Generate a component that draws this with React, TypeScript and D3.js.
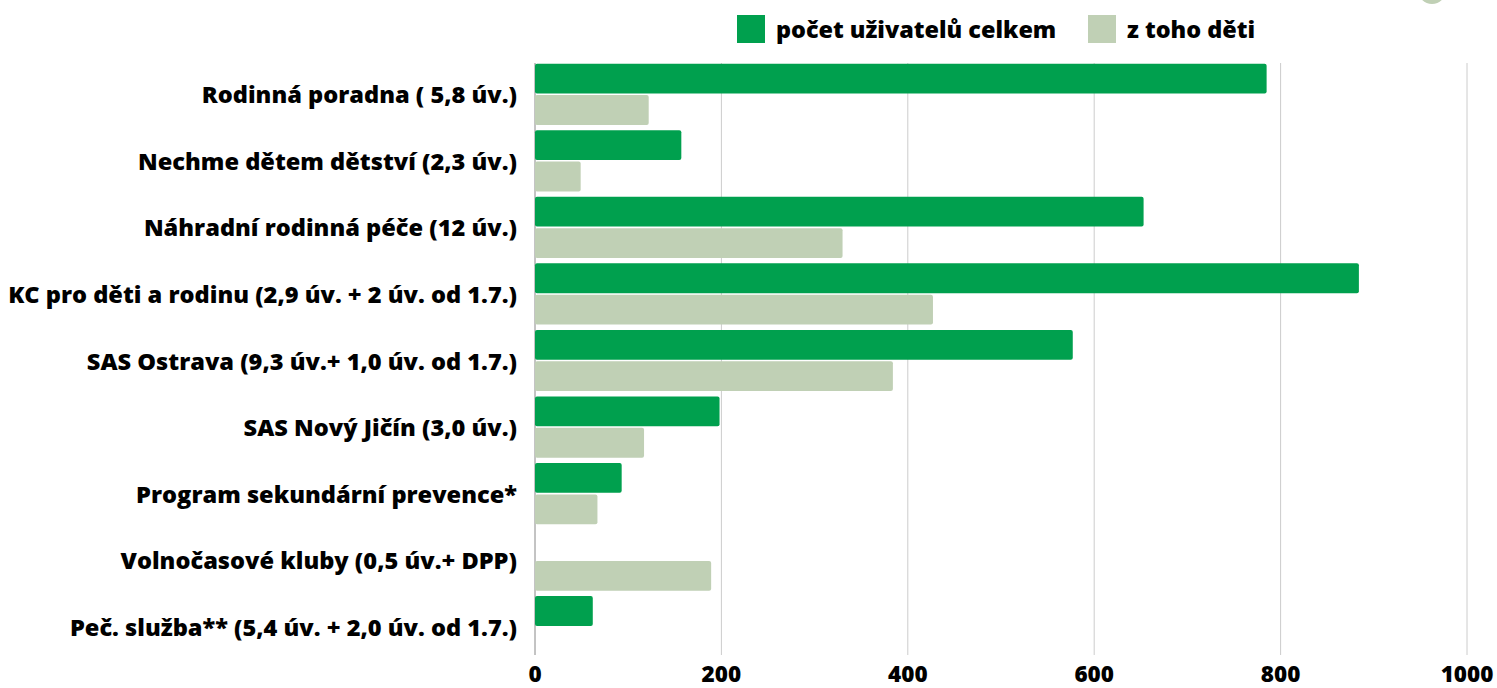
import React from "react";
import * as d3 from "d3";

const categories = [
  "Rodinná poradna ( 5,8 úv.)",
  "Nechme dětem dětství (2,3 úv.)",
  "Náhradní rodinná péče (12 úv.)",
  "KC pro děti a rodinu (2,9 úv. + 2 úv. od 1.7.)",
  "SAS Ostrava (9,3 úv.+ 1,0 úv. od 1.7.)",
  "SAS Nový Jičín (3,0 úv.)",
  "Program sekundární prevence*",
  "Volnočasové kluby (0,5 úv.+ DPP)",
  "Peč. služba** (5,4 úv. + 2,0 úv. od 1.7.)",
];
const totalUsers = [785, 157, 653, 884, 577, 198, 93, 0, 62];
const childUsers = [122, 49, 330, 427, 384, 117, 67, 189, 0];
const xTicks = [0, 200, 400, 600, 800, 1000];
const seriesNames = ["počet uživatelů celkem", "z toho děti"];
const colors = ["#00a04e", "#c0d0b5"];

const W = 1497;
const H = 688;
const FONT = "'Open Sans', sans-serif";

export default function App() {
  const x = d3.scaleLinear().domain([0, 1000]).range([535, 1467]);
  const y = d3.scaleBand<string>().domain(categories).range([61, 660]).paddingInner(0.08).paddingOuter(0.04);
  const sub = d3.scaleBand<number>().domain([0, 1]).range([0, y.bandwidth()]).paddingInner(0.05);
  const gridTop = 63;
  const gridBottom = 655;

  return (
    <svg width={W} height={H} style={{ position: "absolute", left: 0, top: 0, background: "#fff" }}>
      <circle cx={1432} cy={-10} r={14} fill="#c0d0b5" />
      {xTicks.map((t) => (
        <line key={"g" + t} x1={x(t)} x2={x(t)} y1={gridTop} y2={gridBottom} stroke={t === 0 ? "#888" : "#cccccc"} strokeWidth={1} />
      ))}
      {categories.map((c, i) => {
        const y0 = y(c)!;
        return (
          <g key={c}>
            {totalUsers[i] > 0 && (
              <rect x={x(0)} y={y0 + sub(0)!} width={x(totalUsers[i]) - x(0)} height={sub.bandwidth()} fill={colors[0]} rx={2} />
            )}
            {childUsers[i] > 0 && (
              <rect x={x(0)} y={y0 + sub(1)!} width={x(childUsers[i]) - x(0)} height={sub.bandwidth()} fill={colors[1]} rx={2} />
            )}
            <text
              x={517}
              y={y0 + y.bandwidth() / 2}
              textAnchor="end"
              dominantBaseline="central"
              fontFamily={FONT}
              fontWeight={800}
              fontSize={23.6}
              fill="#000"
            >
              {c}
            </text>
          </g>
        );
      })}
      {xTicks.map((t) => (
        <text key={"t" + t} x={x(t)} y={682} textAnchor="middle" fontFamily={FONT} fontWeight={800} fontSize={22.5} fill="#000">
          {t}
        </text>
      ))}
      {seriesNames.map((s, i) => {
        const lx = i === 0 ? 737 : 1088;
        return (
          <g key={s}>
            <rect x={lx} y={15} width={28} height={28} fill={colors[i]} />
            <text x={lx + 39} y={29} dominantBaseline="central" fontFamily={FONT} fontWeight={800} fontSize={23.4} fill="#000">
              {s}
            </text>
          </g>
        );
      })}
    </svg>
  );
}
